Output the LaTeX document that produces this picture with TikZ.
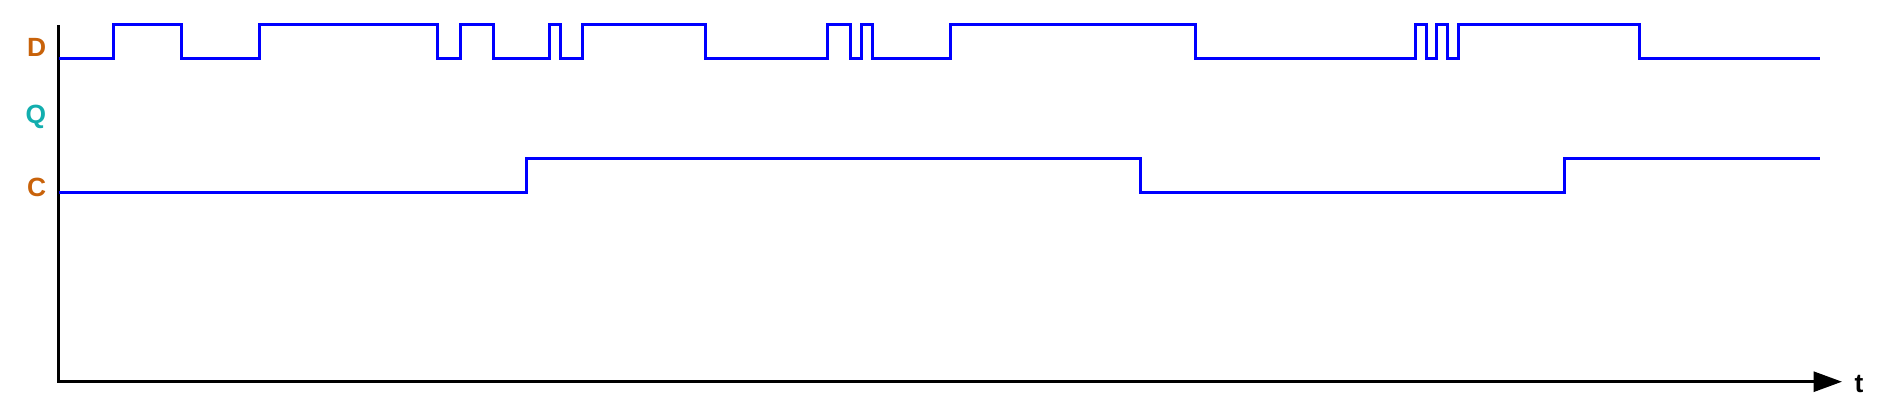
\documentclass[tikz,border=0pt]{standalone}
\usepackage{fontspec}
\setsansfont{Liberation Sans}
\usetikzlibrary{positioning, arrows.meta}
\definecolor{labbrown}{RGB}{200,98,10}
\definecolor{labteal}{RGB}{18,174,174}
\definecolor{sigblue}{RGB}{0,0,255}

\begin{document}
\begin{tikzpicture}[x=0.2mm, y=-0.2mm,
  font=\sffamily\bfseries\fontsize{15}{18}\selectfont,
  lab/.style={anchor=base, inner sep=0pt},
  sig/.style={draw=sigblue, line width=0.6mm, line join=miter},
  axis/.style={draw=black, line width=0.6mm, -{Triangle[length=5.7mm, width=4mm]}}]
  \useasboundingbox (0,0) rectangle (1887,410);
  % axes
  \coordinate (ytop) at (58.5,25);
  \coordinate (orig) at (58.5,381.7);
  \coordinate (xend) at (1842,381.7);
  \draw[axis] (ytop) -- (orig) -- (xend);
  % signal names
  \node[lab, text=labbrown] (dlab) at (36.7,56) {D};
  \node[lab, text=labteal] (qlab) at (36,123.5) {Q};
  \node[lab, text=labbrown] (clab) at (36.7,196.3) {C};
  \node[lab] (tlab) at (1859,392.5) {t};
  % D
  \draw[sig] (58.5,58.3) -| (113.3,24.5) -| (181.7,58.3) -| (259.3,24.5)
    -| (437.3,58.3) -| (460,24.5) -| (493.3,58.3) -| (549,24.5) -| (560,58.3)
    -| (582.3,24.5) -| (705,58.3) -| (827.7,24.5) -| (850,58.3) -| (861.7,24.5)
    -| (872.7,58.3) -| (950.7,24.5) -| (1195.7,58.3) -| (1415,24.5)
    -| (1426.7,58.3) -| (1436.7,24.5) -| (1447.7,58.3) -| (1458.3,24.5)
    -| (1639.3,58.3) -- (1820,58.3);
  % C
  \draw[sig] (58.5,192) -| (526.7,158.3) -| (1140,192) -| (1564.3,158.3) -- (1820,158.3);
\end{tikzpicture}
\end{document}
